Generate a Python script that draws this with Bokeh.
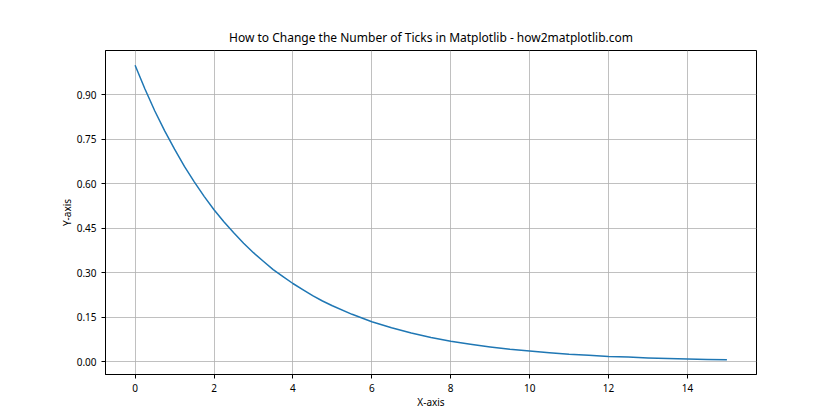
from bokeh.plotting import figure
from bokeh.models import FixedTicker, Range1d, NumeralTickFormatter
from bokeh.embed import file_html
from bokeh.resources import INLINE

x_vals = [0, 0.25, 0.5, 0.75, 1, 1.25, 1.5, 1.75, 2, 2.25, 2.5, 2.75, 3, 3.25, 3.5, 3.75,
          4, 4.25, 4.5, 4.75, 5, 5.5, 6, 6.5, 7, 7.5, 8, 8.5, 9, 9.5,
          10, 10.5, 11, 11.5, 12, 12.5, 13, 13.5, 14, 14.5, 15]
y_vals = [1.00, 0.920, 0.846, 0.779, 0.717, 0.659, 0.607, 0.558, 0.513, 0.472, 0.435,
          0.400, 0.368, 0.339, 0.311, 0.287, 0.264, 0.243, 0.223, 0.205, 0.189,
          0.160, 0.135, 0.115, 0.097, 0.082, 0.069, 0.059, 0.050, 0.042, 0.036, 0.030,
          0.025, 0.022, 0.018, 0.016, 0.013, 0.011, 0.009, 0.008, 0.007]
x_ticks = [0, 2, 4, 6, 8, 10, 12, 14]
y_ticks = [0.0, 0.15, 0.30, 0.45, 0.60, 0.75, 0.90]

FONT = "Noto Sans"

p = figure(frame_width=651, frame_height=324, output_backend="svg", toolbar_location=None,
           x_range=Range1d(-0.75, 15.75), y_range=Range1d(-0.043, 1.05),
           title="How to Change the Number of Ticks in Matplotlib - how2matplotlib.com",
           min_border_left=105, min_border_top=50, min_border_right=70, min_border_bottom=32)

p.line(x_vals, y_vals, line_color="#1f77b4", line_width=1.5, line_join="round")

p.title.align = "center"
p.title.text_font = FONT
p.title.text_font_size = "12px"
p.title.text_font_style = "normal"
p.title.text_color = "black"

p.xaxis.ticker = FixedTicker(ticks=x_ticks)
p.yaxis.ticker = FixedTicker(ticks=y_ticks)
p.yaxis.formatter = NumeralTickFormatter(format="0.00")
p.xaxis.axis_label = "X-axis"
p.yaxis.axis_label = "Y-axis"

for ax in (p.xaxis, p.yaxis):
    ax.axis_label_text_font = FONT
    ax.axis_label_text_font_size = "10px"
    ax.axis_label_text_font_style = "normal"
    ax.axis_label_text_color = "black"
    ax.major_label_text_font = FONT
    ax.major_label_text_font_size = "10px"
    ax.major_label_text_color = "black"
    ax.axis_line_color = "black"
    ax.major_tick_line_color = "black"
    ax.major_tick_out = 4
    ax.major_tick_in = 0
    ax.minor_tick_line_color = None
    ax.axis_label_standoff = 0

p.xgrid.grid_line_color = "#b0b0b0"
p.ygrid.grid_line_color = "#b0b0b0"
p.xgrid.grid_line_width = 0.8
p.ygrid.grid_line_width = 0.8
p.outline_line_color = "black"
p.outline_line_width = 1

open("out.html", "w").write(file_html(p, INLINE))
